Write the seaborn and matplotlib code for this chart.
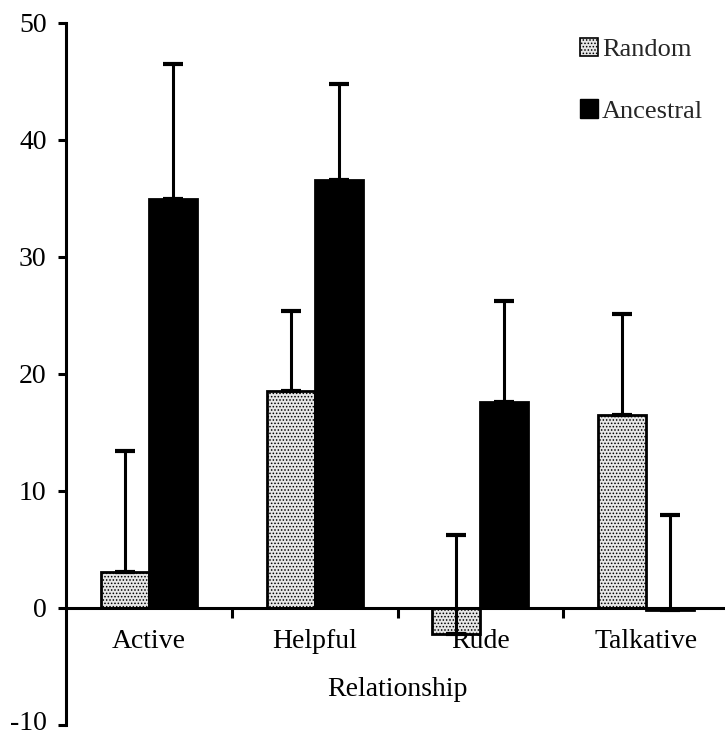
import matplotlib
matplotlib.use("Agg")
import matplotlib.pyplot as plt
import matplotlib.transforms as mtransforms
import seaborn as sns
import pandas as pd
import numpy as np
from matplotlib.patches import Patch

categories = ["Active", "Helpful", "Rude", "Talkative"]
groups = ["Random", "Ancestral"]
random_vals = [3.05, 18.5, -2.2, 16.5]
ancestral_vals = [34.9, 36.6, 17.6, -0.2]
random_err = [10.35, 6.9, 8.45, 8.6]
ancestral_err = [11.6, 8.15, 8.6, 8.15]
yticks = [-10, 0, 10, 20, 30, 40, 50]

sns.set_theme(style="white")
plt.rcParams["font.family"] = ["Liberation Serif", "DejaVu Serif"]
plt.rcParams["hatch.linewidth"] = 0.7

df = pd.DataFrame({
    "Relationship": categories * 2,
    "Group": ["Random"] * 4 + ["Ancestral"] * 4,
    "Value": random_vals + ancestral_vals,
})

fig = plt.figure(figsize=(7.25, 7.35), dpi=100)
ax = fig.add_axes([66 / 725, 10 / 735, 663 / 725, 702.3 / 735])

sns.barplot(data=df, x="Relationship", y="Value", hue="Group", order=categories,
            hue_order=groups, palette={"Random": "#e6e6e6", "Ancestral": "black"},
            width=0.58, gap=0, edgecolor="black", linewidth=2, errorbar=None,
            legend=False, ax=ax, saturation=1)

errs = {"Random": random_err, "Ancestral": ancestral_err}
vals_map = {"Random": random_vals, "Ancestral": ancestral_vals}
for cont, g in zip(ax.containers, groups):
    xs = []
    for bar in cont:
        xs.append(bar.get_x() + bar.get_width() / 2)
        if g == "Random":
            bar.set_hatch(".....")
    e = np.array(errs[g])
    ax.errorbar(xs, vals_map[g], yerr=[np.zeros_like(e), e], fmt="none", ecolor="black",
                elinewidth=2.2, capsize=7.2, capthick=3, zorder=1)

ax.set_xlim(-0.5, 3.5)
ax.set_ylim(-10, 50)
ax.set_yticks(yticks)
ax.set_yticklabels([str(t) for t in yticks], fontsize=20)

for s in ["top", "right"]:
    ax.spines[s].set_visible(False)
ax.spines["bottom"].set_position(("data", 0))
for s in ["bottom", "left"]:
    ax.spines[s].set_linewidth(2.2)
    ax.spines[s].set_color("black")

ax.tick_params(axis="y", direction="out", length=6, width=2.2, pad=8, colors="black", left=True)
ax.set_xticks(range(4))
ax.set_xticklabels(categories, fontsize=20)
ax.tick_params(axis="x", which="major", length=0, pad=15, colors="black")
ax.set_xticks([0.5, 1.5, 2.5], minor=True)
ax.tick_params(axis="x", which="minor", direction="out", length=7, width=2.2, bottom=True, color="black")

# nudge the lowest y tick label up a little so it stays inside the figure
lowest = ax.get_yticklabels()[0]
lowest.set_transform(lowest.get_transform() + mtransforms.ScaledTranslation(0, 4 / 100, fig.dpi_scale_trans))

ax.set_xlabel("Relationship", fontsize=20, color="black")
ax.xaxis.set_label_coords(0.5, 0.068)
ax.set_ylabel("")

handles = [Patch(facecolor="#e6e6e6", edgecolor="black", hatch=".....", linewidth=1.2),
           Patch(facecolor="black", edgecolor="black")]
leg = ax.legend(handles, groups, loc="upper left", bbox_to_anchor=(569 / 725, 1 - 27 / 735),
                bbox_transform=fig.transFigure, frameon=False, fontsize=19,
                handlelength=0.7, handleheight=0.7, handletextpad=0.15, labelspacing=1.45,
                borderaxespad=0)

fig.savefig("out.png", dpi=100)
